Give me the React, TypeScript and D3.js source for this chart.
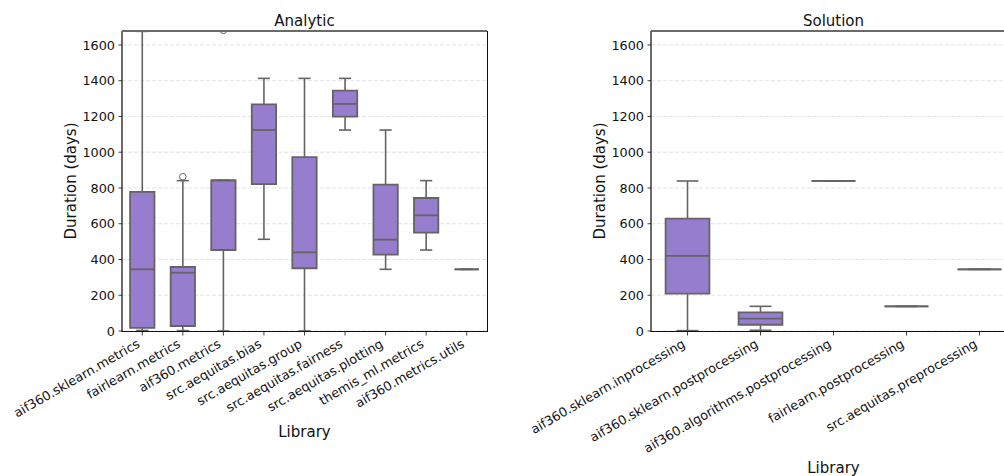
import React from "react";
import * as d3 from "d3";

// ---------- data ----------
const analyticLibs = [
  "aif360.sklearn.metrics",
  "fairlearn.metrics",
  "aif360.metrics",
  "src.aequitas.bias",
  "src.aequitas.group",
  "src.aequitas.fairness",
  "src.aequitas.plotting",
  "themis_ml.metrics",
  "aif360.metrics.utils",
];
const analyticWhisLo = [3, 2, 0, 513, 0, 1124, 345, 453, 345];
const analyticQ1 = [18, 28, 453, 821, 351, 1199, 427, 550, 345];
const analyticMedian = [345, 326, 843, 1124, 440, 1270, 511, 647, 345];
const analyticQ3 = [778, 358, 843, 1268, 972, 1344, 819, 744, 345];
const analyticWhisHi = [1676, 841, 843, 1413, 1413, 1413, 1124, 841, 345];
const analyticOutliers: number[][] = [[], [863], [1682], [], [], [], [], [], []];

const solutionLibs = [
  "aif360.sklearn.inprocessing",
  "aif360.sklearn.postprocessing",
  "aif360.algorithms.postprocessing",
  "fairlearn.postprocessing",
  "src.aequitas.preprocessing",
];
const solutionWhisLo = [2, 4, 840, 138, 345];
const solutionQ1 = [209, 35, 840, 138, 345];
const solutionMedian = [420, 69, 840, 138, 345];
const solutionQ3 = [628, 104, 840, 138, 345];
const solutionWhisHi = [839, 138, 840, 138, 345];
const solutionOutliers: number[][] = [[], [], [], [], []];

const yTicks = [0, 200, 400, 600, 800, 1000, 1200, 1400, 1600];
const yMax = 1678;

// ---------- style ----------
const FONT = "DejaVu Sans";
const BOX_FILL = "#977dce";
const LINE = "#646464";

type PanelProps = {
  id: string;
  ox: number;
  title: string;
  cats: string[];
  lo: number[];
  q1: number[];
  med: number[];
  q3: number[];
  hi: number[];
  outs: number[][];
  xlabelY: number;
};

const TOP = 31;
const BOTTOM = 331;
const WIDTH = 365;

function Panel(p: PanelProps) {
  const x = d3.scaleBand<string>().domain(p.cats).range([p.ox, p.ox + WIDTH]).padding(0);
  const y = d3.scaleLinear().domain([0, yMax]).range([BOTTOM, TOP]);
  const bw = x.bandwidth() * 0.6;
  const cw = bw / 2;
  const cx = (c: string) => (x(c) as number) + x.bandwidth() / 2;
  const right = p.ox + WIDTH;

  return (
    <g>
      <defs>
        <clipPath id={p.id}>
          <rect x={p.ox} y={TOP} width={WIDTH} height={BOTTOM - TOP} />
        </clipPath>
      </defs>
      {/* grid */}
      {yTicks.map((t) => (
        <line
          key={"g" + t}
          x1={p.ox}
          x2={right}
          y1={y(t)}
          y2={y(t)}
          stroke="#dcdcdc"
          strokeWidth={0.8}
          strokeDasharray="4,2"
        />
      ))}
      <g clipPath={`url(#${p.id})`}>
        {p.cats.map((c, i) => {
          const m = cx(c);
          const yq1 = y(p.q1[i]);
          const yq3 = y(p.q3[i]);
          return (
            <g key={c}>
              <line x1={m} x2={m} y1={yq3} y2={y(p.hi[i])} stroke={LINE} strokeWidth={1.6} />
              <line x1={m} x2={m} y1={yq1} y2={y(p.lo[i])} stroke={LINE} strokeWidth={1.6} />
              <line x1={m - cw / 2} x2={m + cw / 2} y1={y(p.hi[i])} y2={y(p.hi[i])} stroke={LINE} strokeWidth={1.6} />
              <line x1={m - cw / 2} x2={m + cw / 2} y1={y(p.lo[i])} y2={y(p.lo[i])} stroke={LINE} strokeWidth={1.6} />
              <path
                d={`M${m - bw / 2},${yq3}H${m + bw / 2}V${yq1}H${m - bw / 2}Z`}
                fill={BOX_FILL}
                stroke={LINE}
                strokeWidth={1.8}
              />
              <line
                x1={m - bw / 2}
                x2={m + bw / 2}
                y1={y(p.med[i])}
                y2={y(p.med[i])}
                stroke={LINE}
                strokeWidth={1.8}
              />
              {p.outs[i].map((o, k) => (
                <circle key={k} cx={m} cy={y(o)} r={3.3} fill="none" stroke={LINE} strokeWidth={1} />
              ))}
            </g>
          );
        })}
      </g>
      {/* spines */}
      <line x1={p.ox} x2={right} y1={TOP} y2={TOP} stroke="#6a6a6a" strokeWidth={2} />
      <line x1={p.ox} x2={p.ox} y1={TOP} y2={BOTTOM + 1} stroke="#6a6a6a" strokeWidth={2} />
      <line x1={right + 0.5} x2={right + 0.5} y1={TOP} y2={BOTTOM + 1} stroke="#111" strokeWidth={1} />
      <line x1={p.ox} x2={right + 1} y1={BOTTOM + 0.5} y2={BOTTOM + 0.5} stroke="#111" strokeWidth={1} />
      {/* y ticks */}
      {yTicks.map((t) => (
        <g key={"t" + t}>
          <line x1={p.ox - 3.5} x2={p.ox} y1={y(t)} y2={y(t)} stroke="#111" strokeWidth={0.8} />
          <text
            x={p.ox - 7}
            y={y(t)}
            dy="0.36em"
            textAnchor="end"
            fontFamily={FONT}
            fontSize={12.8}
            fill="#111"
          >
            {t}
          </text>
        </g>
      ))}
      {/* x ticks */}
      {p.cats.map((c) => (
        <g key={"x" + c}>
          <line x1={cx(c)} x2={cx(c)} y1={BOTTOM + 1} y2={BOTTOM + 4.5} stroke="#111" strokeWidth={0.8} />
          <text
            transform={`translate(${cx(c) - 1.5},${BOTTOM + 15.4}) rotate(-30)`}
            textAnchor="end"
            fontFamily={FONT}
            fontSize={12.8}
            fill="#111"
          >
            {c}
          </text>
        </g>
      ))}
      <text x={p.ox + WIDTH / 2} y={26} textAnchor="middle" fontFamily={FONT} fontSize={15} fill="#111">
        {p.title}
      </text>
      <text
        transform={`translate(${p.ox - 46.5},${(TOP + BOTTOM) / 2}) rotate(-90)`}
        textAnchor="middle"
        fontFamily={FONT}
        fontSize={15}
        fill="#111"
      >
        Duration (days)
      </text>
      <text x={p.ox + WIDTH / 2} y={p.xlabelY} textAnchor="middle" fontFamily={FONT} fontSize={15} fill="#111">
        Library
      </text>
    </g>
  );
}

export default function App() {
  return (
    <svg
      width={1004}
      height={476}
      style={{ position: "absolute", left: 0, top: 0, background: "#fff" }}
    >
      <rect x={0} y={0} width={1004} height={476} fill="#fff" />
      <Panel
        id="clipA"
        ox={122}
        title="Analytic"
        cats={analyticLibs}
        lo={analyticWhisLo}
        q1={analyticQ1}
        med={analyticMedian}
        q3={analyticQ3}
        hi={analyticWhisHi}
        outs={analyticOutliers}
        xlabelY={437}
      />
      <Panel
        id="clipS"
        ox={651}
        title="Solution"
        cats={solutionLibs}
        lo={solutionWhisLo}
        q1={solutionQ1}
        med={solutionMedian}
        q3={solutionQ3}
        hi={solutionWhisHi}
        outs={solutionOutliers}
        xlabelY={473}
      />
    </svg>
  );
}
